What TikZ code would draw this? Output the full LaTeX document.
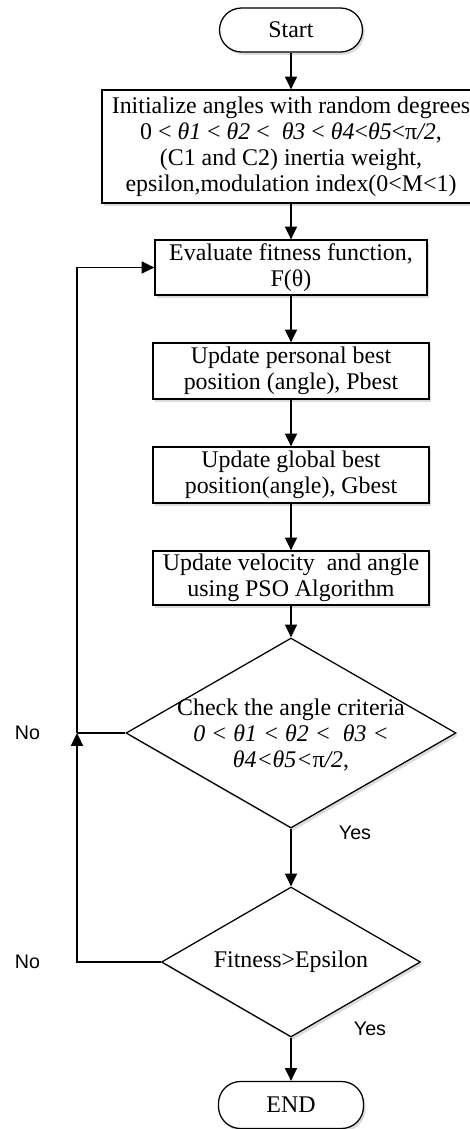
\documentclass[tikz,border=0pt]{standalone}
\usepackage{fontspec}
\setmainfont{Liberation Serif}
\setsansfont{Liberation Sans}
\usepackage{tikz}
\usetikzlibrary{arrows.meta,shapes,shadows}
\newcommand{\clrshadow}{black!35}
\newcommand{\boxfont}{\fontsize{17}{18.5}\selectfont}

\begin{document}
\begin{tikzpicture}[
    line width=1.2pt,
    every node/.style={line width=0.9pt},
    arrow/.style={-{Triangle[length=0.32cm,width=0.3cm]}},
    shade box/.style={drop shadow={shadow xshift=1.5pt,shadow yshift=-2pt,fill=\clrshadow,opacity=0.4}},
    proc/.style={draw, fill=white, shade box, align=center, font=\boxfont, inner sep=0pt},
    term/.style={proc, rounded corners=0.55cm},
    decision/.style={draw, fill=white, shade box, diamond, inner sep=0pt},
    txt/.style={align=center, font=\boxfont},
    answer/.style={font=\sffamily\fontsize{14}{16}\selectfont}
]

    \useasboundingbox (0,0) rectangle (11.75,-28.225);

    \node[term, minimum width=3.575cm, minimum height=1.1cm] (start) at (7.275,-0.75) {Start};
    \node[proc, minimum width=9.45cm, minimum height=2.825cm] (init) at (7.275,-3.6625)
        {Initialize angles with random degrees\\
         0 < \textit{θ1} < \textit{θ2} < \ \textit{θ3} < \textit{θ4}<\textit{θ5}<π\textit{/2},\\
         (C1 and C2) inertia weight,\\
         epsilon,modulation index(0<M<1)};
    \node[proc, minimum width=6.8cm, minimum height=1.375cm] (eval) at (7.275,-6.6875)
        {Evaluate fitness function,\\F(θ)};
    \node[proc, minimum width=6.9cm, minimum height=1.4cm] (pbest) at (7.275,-9.275)
        {Update personal best\\position (angle), Pbest};
    \node[proc, minimum width=6.9cm, minimum height=1.4cm] (gbest) at (7.275,-11.875)
        {Update global best\\position(angle), Gbest};
    \node[proc, minimum width=6.9cm, minimum height=1.35cm] (vel) at (7.275,-14.45)
        {Update velocity \ and angle\\using PSO Algorithm};

    \node[decision, minimum width=8.25cm, minimum height=4.75cm] (chk) at (7.275,-18.325) {};
    \node[txt] (chktext) at (7.275,-18.375)
        {Check the angle criteria\\
         \textit{0 < θ1 < θ2 < \ θ3 <}\\
         \textit{θ4<θ5<}π\textit{/2},};

    \node[decision, minimum width=6.475cm, minimum height=3.75cm] (fit) at (7.275,-24.05) {};
    \node[txt] (fittext) at (fit) {Fitness>Epsilon};

    \node[term, minimum width=3.625cm, minimum height=1.175cm] (end) at (7.275,-27.625) {END};

    \coordinate (join) at (1.925,-18.325);

    \node[answer] (no1) at (0.6875,-18.325) {No};
    \node[answer] (no2) at (0.6875,-24.05) {No};
    \node[answer] (yes1) at (8.875,-20.825) {Yes};
    \node[answer] (yes2) at (9.25,-25.725) {Yes};

    \draw[arrow] (start) -- (init);
    \draw[arrow] (init) -- (eval);
    \draw[arrow] (eval) -- (pbest);
    \draw[arrow] (pbest) -- (gbest);
    \draw[arrow] (gbest) -- (vel);
    \draw[arrow] (vel) -- (chk.north);
    \draw[arrow] (chk.south) -- (fit.north);
    \draw[arrow] (fit.south) -- (end);

    % loops back to the fitness evaluation
    \draw (chk.west) -- (join);
    \draw[arrow] (fit.west) -| (join);
    \draw[arrow] (join) |- (eval.west);

\end{tikzpicture}
\end{document}
